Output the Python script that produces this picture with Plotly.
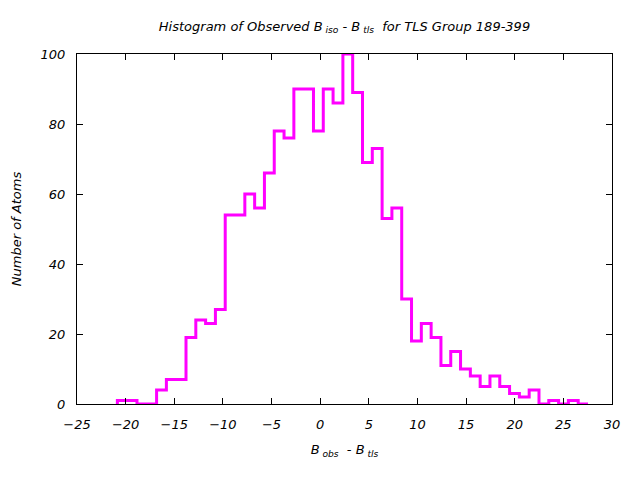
import plotly.graph_objects as go

# Histogram data (bin left edge of first bin, bin width, counts)
first_edge = -20.85
bin_width = 1.008
counts = [1, 1, 0, 0, 4, 7, 7, 19, 24, 23, 27, 54, 54, 60, 56, 66, 78, 76, 90, 90,
          78, 90, 86, 100, 89, 69, 73, 53, 56, 30, 18, 23, 19, 11, 15, 10, 8, 5, 8, 5,
          3, 2, 4, 0, 1, 0, 1, 0]
x_ticks = [-25, -20, -15, -10, -5, 0, 5, 10, 15, 20, 25, 30]
y_ticks = [0, 20, 40, 60, 80, 100]

edges = [first_edge + i * bin_width for i in range(len(counts) + 1)]
xs = [edges[0]] + edges
ys = [0] + counts + [counts[-1]]

FONT = "DejaVu Sans"

fig = go.Figure()
fig.add_trace(go.Scatter(x=xs, y=ys, mode="lines", line=dict(color="#ff00ff", width=3, shape="hv"),
                         showlegend=False, hoverinfo="skip"))

axis_common = dict(showgrid=False, zeroline=False, showline=True, linecolor="black", linewidth=1,
                   mirror="ticks", ticks="inside", ticklen=6, tickcolor="black",
                   tickfont=dict(family=FONT, size=13, color="black", style="italic"))

fig.update_layout(
    width=640, height=480,
    margin=dict(l=77, r=28, t=54, b=76),
    paper_bgcolor="white", plot_bgcolor="white",
    title=dict(text="Histogram of Observed B<sub> iso</sub> - B<sub> tls</sub>  for TLS Group 189-399",
               x=(77 + 612) / 2 / 640, xanchor="center", y=1 - 26 / 480, yanchor="middle",
               font=dict(family=FONT, size=13, color="black", style="italic")),
    xaxis=dict(range=[-25, 30], tickvals=x_ticks, ticklabelstandoff=8,
               title=dict(text="B<sub> obs</sub>  - B<sub> tls</sub>", standoff=14,
                          font=dict(family=FONT, size=13, color="black", style="italic")),
               **axis_common),
    yaxis=dict(range=[0, 100], tickvals=y_ticks, ticklabelstandoff=8,
               title=dict(text="Number of Atoms", standoff=16,
                          font=dict(family=FONT, size=13, color="black", style="italic")),
               **axis_common),
)

fig.write_html("out.html")
